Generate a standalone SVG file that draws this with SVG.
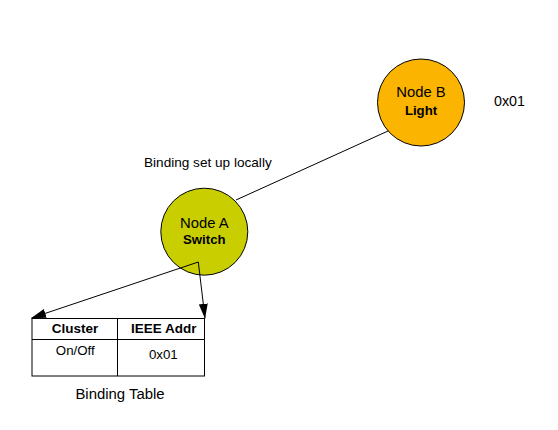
<svg xmlns="http://www.w3.org/2000/svg" width="558" height="430" viewBox="0 0 558 430">
<style>
text{font-family:"Liberation Sans",Arial,sans-serif;fill:#000}
.n{font-size:14.8px;text-anchor:middle}
.nb{font-size:13.2px;font-weight:bold;text-anchor:middle}
.b{font-size:13.5px;font-weight:bold;text-anchor:middle}
.t{font-size:13.3px;text-anchor:middle}
.ln{stroke:#000;stroke-width:1;fill:none}
</style>
<defs>
<marker id="ah" markerWidth="15" markerHeight="10" refX="14.5" refY="5" orient="auto" markerUnits="userSpaceOnUse">
<path d="M0,0.5 L15,5 L0,9.5 Z" fill="#000"/>
</marker>
</defs>
<rect width="558" height="430" fill="#fff"/>
<g id="nodeB">
<circle cx="421" cy="102.5" r="43.5" fill="#FBB400" stroke="#000" stroke-width="1"/>
<text class="n" x="421" y="96.7">Node B</text>
<text class="nb" x="421" y="115">Light</text>
</g>
<g id="nodeA">
<circle cx="204.3" cy="231.7" r="43.5" fill="#C9CE00" stroke="#000" stroke-width="1"/>
<text class="n" x="204.3" y="227.8">Node A</text>
<text class="nb" x="204.3" y="244.3">Switch</text>
</g>
<g id="labels">
<text x="494" y="106" style="font-size:14.3px">0x01</text>
<text x="144" y="167" style="font-size:13.6px">Binding set up locally</text>
<text x="120" y="398.7" style="font-size:14.9px;text-anchor:middle">Binding Table</text>
</g>
<g id="table">
<rect x="32" y="318.5" width="172.5" height="57.5" fill="#fff" stroke="#000" stroke-width="1"/>
<line x1="32" y1="339.5" x2="204.5" y2="339.5" stroke="#000"/>
<line x1="117.5" y1="318.5" x2="117.5" y2="376" stroke="#000"/>
<text class="b" x="75" y="332.7">Cluster</text>
<text class="b" x="163.8" y="332.7">IEEE Addr</text>
<text class="t" x="75.3" y="355.3">On/Off</text>
<text class="t" x="163.3" y="359.3">0x01</text>
</g>
<g id="connectors">
<line class="ln" x1="236" y1="200" x2="388" y2="131"/>
<line class="ln" x1="198.3" y1="262" x2="31.5" y2="318" marker-end="url(#ah)"/>
<line class="ln" x1="198.3" y1="262" x2="205" y2="318.3" marker-end="url(#ah)"/>
</g>
</svg>
